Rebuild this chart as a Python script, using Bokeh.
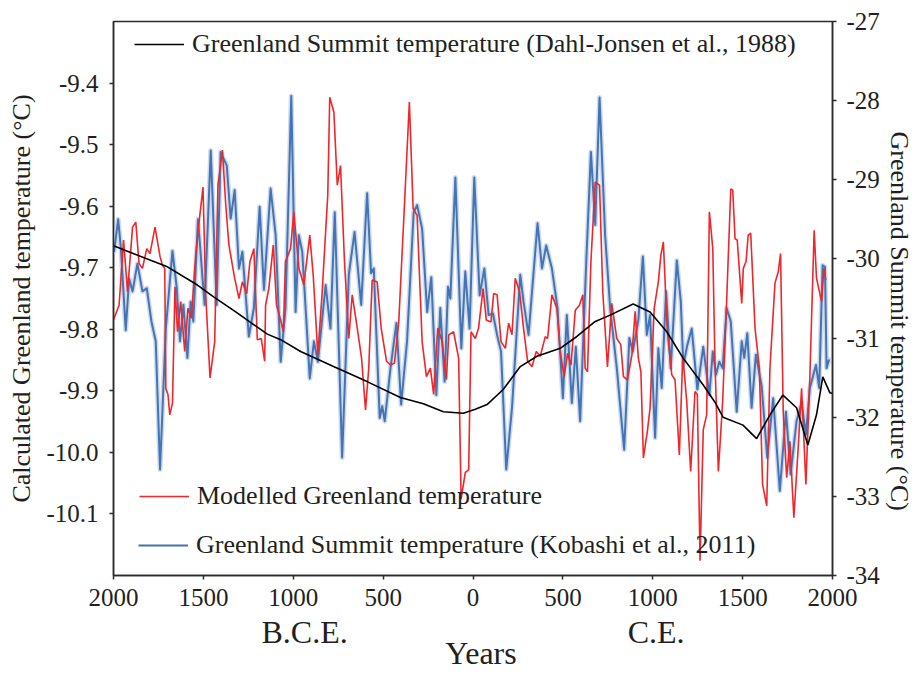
from bokeh.plotting import figure
from bokeh.models import (Range1d, LinearAxis, FixedTicker, Legend, LegendItem,
                          CustomJSTickFormatter)
from bokeh.embed import file_html
from bokeh.resources import INLINE

# Greenland Summit borehole temperature (Dahl-Jensen et al.), deg C
dj_year = [-2000, -1700, -1533, -1443, -1320, -1144, -1070, -959, -776, -589, -404, -276,
           -165, -54, 13, 78, 168, 263, 356, 485, 578, 680, 763, 891, 985, 1078, 1168,
           1280, 1346, 1391, 1502, 1578, 1652, 1724, 1800, 1863, 1911, 1946, 1985, 2000]
dj_temp = [-29.835, -30.10, -30.33, -30.48, -30.67, -30.95, -31.02, -31.17, -31.36, -31.55,
           -31.75, -31.83, -31.93, -31.95, -31.90, -31.84, -31.65, -31.36, -31.23, -31.13,
           -30.98, -30.79, -30.71, -30.57, -30.67, -30.92, -31.25, -31.59, -31.81, -32.0,
           -32.1, -32.27, -31.97, -31.72, -31.88, -32.35, -31.97, -31.49, -31.69, -31.70]

# Greenland Summit temperature (Kobashi et al., 2011), deg C
kb_year = [-1997, -1974, -1959, -1932, -1913, -1894, -1867, -1839, -1815, -1789,
           -1765, -1741, -1709, -1672, -1648, -1630, -1611, -1589, -1571, -1556,
           -1530, -1493, -1459, -1426, -1404, -1370, -1348, -1326, -1302, -1283,
           -1247, -1219, -1187, -1163, -1126, -1098, -1070, -1043, -1011, -987,
           -969, -950, -908, -885, -863, -820, -793, -769, -728, -691,
           -659, -622, -589, -567, -552, -519, -505, -491, -459, -426,
           -400, -367, -330, -311, -283, -255, -232, -204, -182, -158,
           -139, -126, -98, -65, -43, -19, 7, 37, 63, 87,
           111, 134, 156, 185, 217, 263, 281, 309, 359, 384,
           407, 439, 470, 500, 522, 550, 572, 596, 630, 656,
           680, 704, 735, 763, 800, 841, 870, 889, 920, 945,
           967, 985, 1013, 1031, 1050, 1074, 1100, 1134, 1156, 1170,
           1192, 1217, 1248, 1281, 1315, 1334, 1352, 1370, 1389, 1411,
           1434, 1467, 1495, 1509, 1526, 1550, 1574, 1606, 1637, 1670,
           1707, 1741, 1767, 1800, 1828, 1852, 1874, 1908, 1926, 1945,
           1958, 1967, 1981]
kb_temp = [-29.91, -29.50, -29.86, -30.90, -30.25, -30.41, -30.06, -30.41, -30.37, -30.79,
           -31.04, -32.66, -30.88, -29.90, -30.37, -31.04, -30.58, -31.25, -30.54, -30.79,
           -29.50, -30.58, -28.63, -30.58, -28.65, -28.82, -29.49, -29.13, -30.12, -29.91,
           -30.98, -30.62, -29.34, -30.39, -29.11, -29.70, -31.30, -30.62, -27.94, -30.67,
           -29.70, -29.91, -31.51, -31.04, -31.30, -30.33, -30.88, -29.41, -32.51, -30.20,
           -29.66, -30.58, -29.17, -30.18, -30.12, -32.01, -31.86, -32.05, -31.38, -30.81,
           -31.84, -31.04, -29.41, -29.32, -29.62, -30.67, -30.23, -31.72, -30.62, -31.55,
           -30.35, -30.50, -28.97, -31.13, -30.16, -30.88, -28.97, -30.46, -30.12, -30.71,
           -30.69, -30.96, -31.17, -32.66, -31.88, -30.20, -30.54, -30.96, -29.55, -30.12,
           -29.83, -30.12, -30.62, -31.76, -30.71, -31.82, -31.11, -32.05, -30.04, -28.65,
           -29.57, -27.96, -29.70, -30.62, -31.38, -32.41, -31.00, -31.17, -30.77, -29.97,
           -30.96, -30.71, -32.26, -31.13, -31.63, -30.41, -31.38, -30.02, -30.54, -31.34,
           -31.09, -30.88, -31.65, -31.11, -31.72, -31.17, -31.46, -31.30, -31.38, -30.62,
           -30.79, -31.93, -31.04, -31.25, -30.94, -31.88, -31.21, -31.61, -32.51, -31.76,
           -32.93, -31.93, -32.72, -32.05, -31.82, -32.22, -31.63, -31.34, -31.63, -30.08,
           -30.10, -31.38, -31.27]

# Modelled Greenland temperature, deg C
mod_year = [-2000, -1969, -1944, -1922, -1894, -1876, -1858, -1839, -1815, -1797,
            -1769, -1741, -1728, -1715, -1709, -1697, -1687, -1672, -1658, -1644,
            -1626, -1604, -1586, -1567, -1543, -1524, -1502, -1487, -1463, -1437,
            -1419, -1394, -1376, -1358, -1326, -1302, -1283, -1259, -1241, -1219,
            -1200, -1178, -1159, -1154, -1136, -1111, -1093, -1070, -1055, -1043,
            -1015, -997, -969, -941, -908, -889, -863, -839, -820, -808,
            -797, -774, -755, -737, -715, -691, -672, -644, -620, -598,
            -580, -561, -533, -511, -481, -459, -437, -413, -385, -354,
            -333, -311, -283, -259, -237, -219, -196, -172, -148, -135,
            -108, -80, -66, -43, -24, -11, 13, 31, 56, 74,
            100, 115, 134, 156, 180, 198, 217, 235, 259, 281,
            304, 328, 352, 374, 402, 415, 439, 467, 485, 507,
            526, 545, 569, 592, 611, 624, 637, 656, 680, 689,
            704, 722, 748, 772, 800, 822, 837, 859, 884, 902,
            920, 934, 948, 970, 985, 1008, 1031, 1045, 1059, 1081,
            1106, 1124, 1148, 1167, 1189, 1211, 1235, 1248, 1263, 1281,
            1300, 1315, 1334, 1346, 1365, 1389, 1411, 1434, 1445, 1458,
            1470, 1495, 1504, 1519, 1531, 1545, 1569, 1593, 1611, 1634,
            1652, 1680, 1698, 1711, 1726, 1745, 1763, 1785, 1809, 1828,
            1852, 1874, 1898, 1911, 1939, 1952, 1963]
mod_temp = [-9.785, -9.761, -9.655, -9.739, -9.634, -9.626, -9.693, -9.701, -9.669, -9.677,
            -9.634, -9.682, -9.696, -9.701, -9.896, -9.906, -9.939, -9.920, -9.731, -9.804,
            -9.755, -9.836, -9.766, -9.782, -9.680, -9.626, -9.569, -9.744, -9.879, -9.820,
            -9.566, -9.509, -9.596, -9.663, -9.717, -9.750, -9.723, -9.742, -9.690, -9.669,
            -9.817, -9.815, -9.852, -9.761, -9.734, -9.663, -9.761, -9.785, -9.804, -9.690,
            -9.669, -9.609, -9.701, -9.728, -9.647, -9.712, -9.842, -9.739, -9.642, -9.582,
            -9.423, -9.447, -9.566, -9.534, -9.690, -9.815, -9.744, -9.798, -9.847, -9.931,
            -9.863, -9.720, -9.723, -9.798, -9.852, -9.858, -9.855, -9.788, -9.620, -9.431,
            -9.604, -9.615, -9.820, -9.877, -9.863, -9.906, -9.798, -9.820, -9.882, -9.809,
            -9.804, -9.847, -10.076, -10.033, -10.028, -9.804, -9.815, -9.798, -9.734, -9.785,
            -9.788, -9.742, -9.744, -9.820, -9.831, -9.790, -9.809, -9.717, -9.739, -9.798,
            -9.852, -9.861, -9.836, -9.844, -9.812, -9.815, -9.744, -9.766, -9.836, -9.877,
            -9.839, -9.858, -9.769, -9.761, -9.744, -9.863, -9.869, -9.690, -9.561, -9.563,
            -9.566, -9.739, -9.861, -9.758, -9.815, -9.825, -9.877, -9.882, -9.842, -9.771,
            -9.847, -9.869, -10.009, -9.966, -9.928, -9.766, -9.723, -9.680, -9.658, -9.804,
            -9.874, -9.882, -10.004, -9.842, -9.917, -10.031, -9.901, -9.906, -10.176, -9.963,
            -9.939, -9.609, -9.669, -9.852, -10.031, -9.917, -9.755, -9.572, -9.574, -9.653,
            -9.655, -9.758, -9.701, -9.690, -9.647, -9.644, -9.798, -9.863, -10.052, -10.087,
            -9.863, -9.725, -9.707, -9.677, -9.936, -10.041, -9.982, -10.106, -9.993, -9.896,
            -10.052, -9.877, -9.639, -9.717, -9.755, -9.701, -9.720]

x_ticks = [-2000, -1500, -1000, -500, 0, 500, 1000, 1500, 2000]
left_ticks = [-10.1, -10.0, -9.9, -9.8, -9.7, -9.6, -9.5, -9.4]
right_ticks = [-34, -33, -32, -31, -30, -29, -28, -27]

FONT = "Liberation Serif"
INK = "#231f20"
AXIS = "#2b2b2b"
RED = "#f0262b"
BLUE = "#4674b2"
BAND = "#d0dcee"
NB = "\u00a0"

p = figure(width=916, height=674, output_backend="svg", toolbar_location=None,
           x_range=Range1d(-2000, 2000), y_range=Range1d(-10.2, -9.3),
           min_border_left=113, min_border_right=83, min_border_top=21,
           min_border_bottom=98)
p.extra_y_ranges = {"summit": Range1d(-34, -27)}
p.grid.visible = False
p.outline_line_color = AXIS
p.outline_line_width = 1.5
p.background_fill_color = "white"
p.border_fill_color = "white"


def style_axis(ax, size="25px"):
    ax.axis_line_color = AXIS
    ax.axis_line_width = 1.5
    ax.major_tick_line_color = AXIS
    ax.major_tick_line_width = 1.5
    ax.major_tick_in = 0
    ax.major_tick_out = 4
    ax.minor_tick_line_color = None
    ax.major_label_text_font = FONT
    ax.major_label_text_font_size = size
    ax.major_label_text_color = INK
    ax.axis_label_text_font = FONT
    ax.axis_label_text_font_style = "normal"
    ax.axis_label_text_color = INK


# x axis: years before / after the common era shown as absolute values
xa = p.xaxis[0]
style_axis(xa)
xa.ticker = FixedTicker(ticks=x_ticks)
xa.major_label_overrides = {t: str(abs(t)) for t in x_ticks}
xa.major_label_standoff = 9
xa.axis_label = "B.C.E." + NB * 35 + "C.E.\n" + NB * 2 + "Years"
xa.axis_label_text_font_size = "32px"
xa.axis_label_text_line_height = 0.6
xa.axis_label_standoff = 5

# left axis: modelled temperature
ya = p.yaxis[0]
style_axis(ya)
ya.ticker = FixedTicker(ticks=left_ticks)
ya.formatter = CustomJSTickFormatter(code="return tick.toFixed(1);")
ya.major_label_standoff = 11
ya.axis_label = "Calculated Greenland temperature (°C)"
ya.axis_label_text_font_size = "26px"
ya.axis_label_standoff = 7

# right axis for the summit temperatures
ra = LinearAxis(y_range_name="summit", ticker=FixedTicker(ticks=right_ticks))
style_axis(ra)
ra.major_label_overrides = {t: str(t) for t in right_ticks}
ra.major_label_standoff = 10
ra.axis_label = NB * 7 + "Greenland Summit temperature (°C)"
ra.axis_label_text_font_size = "26px"
ra.axis_label_standoff = 2
p.add_layout(ra, "right")

# series
p.line(kb_year, kb_temp, y_range_name="summit", line_width=5, line_color=BAND,
       line_join="round", line_cap="round")
r_kb = p.line(kb_year, kb_temp, y_range_name="summit", line_width=2, line_color=BLUE,
              line_join="round")
r_mod = p.line(mod_year, mod_temp, line_width=1.6, line_color=RED)
r_dj = p.line(dj_year, dj_temp, y_range_name="summit", line_width=1.6, line_color="black")


# legends, one per entry
def make_legend(label, rend, loc):
    lg = Legend(items=[LegendItem(label=label, renderers=[rend])], location=loc,
                glyph_width=50, glyph_height=20, label_standoff=8,
                label_text_font=FONT, label_text_font_size="26px",
                label_text_color=INK, padding=0, margin=0, spacing=0,
                border_line_alpha=0, background_fill_alpha=0)
    p.add_layout(lg)


make_legend("Greenland Summit temperature (Dahl-Jonsen et al., 1988)", r_dj, (21, 516))
make_legend("Modelled Greenland temperature", r_mod, (26, 64))
make_legend("Greenland Summit temperature (Kobashi et al., 2011)", r_kb, (25, 15))

open("out.html", "w").write(file_html(p, INLINE))
